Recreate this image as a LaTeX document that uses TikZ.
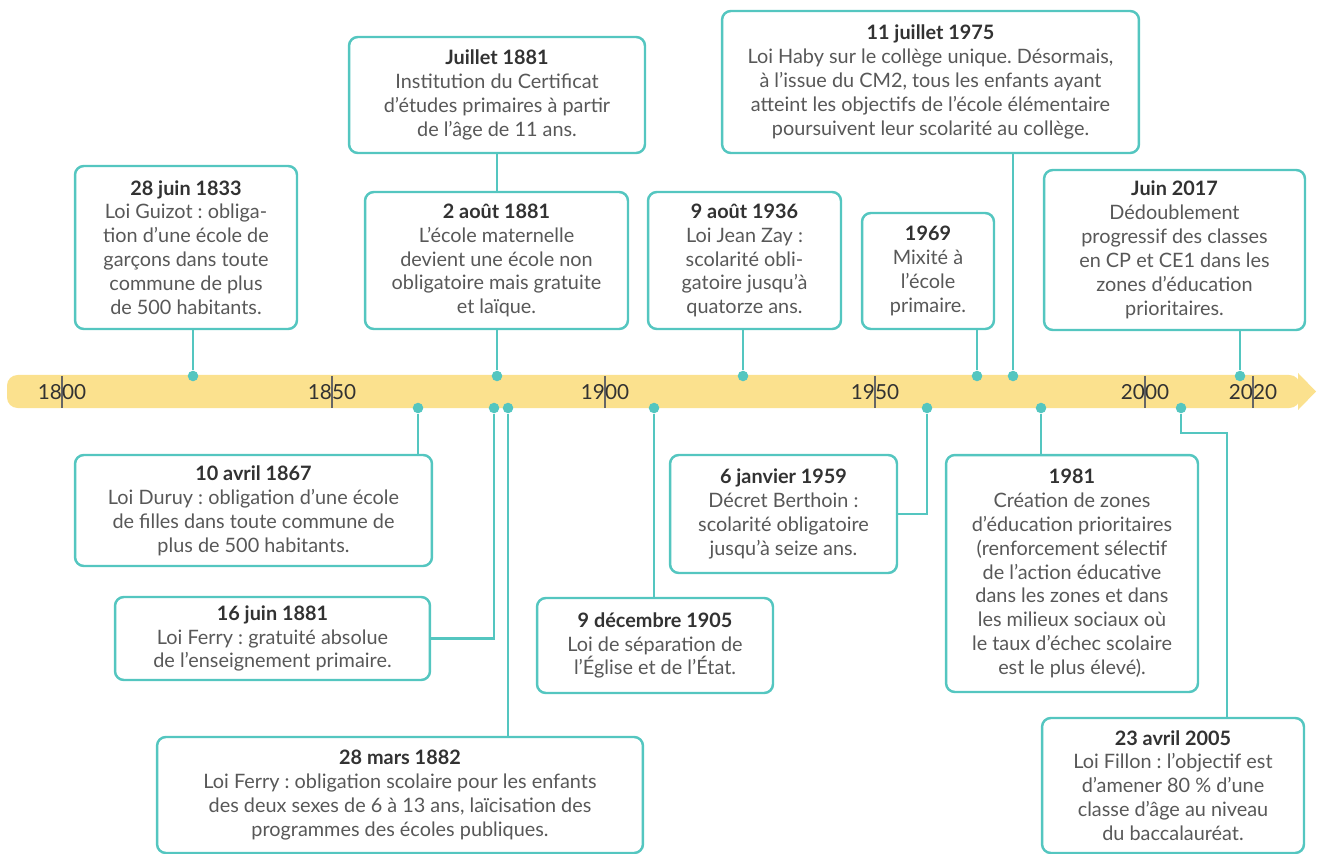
\documentclass[tikz,border=0pt]{standalone}
\usepackage{fontspec}
\setmainfont{Lato}
\usetikzlibrary{calc}
\definecolor{teal1}{RGB}{84,198,192}
\definecolor{barcol}{RGB}{251,225,142}
\definecolor{ink}{RGB}{50,50,50}
\definecolor{txt}{RGB}{88,88,88}
\newcommand{\evt}[2]{{\bfseries\color{ink}#1}\\#2}
\frenchspacing
\tikzset{
	evbox/.style={draw=teal1, line width=1.4pt, rounded corners=5pt, fill=white, align=center, text=txt, inner sep=0pt, font=\fontsize{11.3}{13.6}\selectfont},
	link/.style={teal1, line width=1.4pt},
	dot/.style={circle, fill=teal1, inner sep=0pt, minimum size=6pt},
	yearlbl/.style={text=ink, font=\fontsize{11.8}{12}\selectfont}
}

\begin{document}
\begin{tikzpicture}[x=0.02cm, y=-0.02cm]
		%%%%% START %%%%%
		\useasboundingbox (0,0) rectangle (1317,854);
		
		% frise
		\fill[barcol, rounded corners=6pt] (7,375) rectangle (1300,408);
		\fill[barcol] (1298,373) -- (1316,391.5) -- (1298,410) -- cycle;
		\foreach \x/\y in {62/1800, 332/1850, 605/1900, 875/1950, 1145/2000, 1253/2020}{
			\draw[ink!75, line width=0.6pt] (\x,376) -- (\x,408);
			\node[yearlbl, inner sep=0pt] at (\x,392.5) {\y};
		}
		
		% points
		\node[dot] (d1833) at (193,376) {};
		\node[dot] (d1881b) at (497,376) {};
		\node[dot] (d1936) at (743,376) {};
		\node[dot] (d1969) at (977,376) {};
		\node[dot] (d1975) at (1013,376) {};
		\node[dot] (d2017) at (1240,376) {};
		\node[dot] (d1867) at (418,408) {};
		\node[dot] (d1881c) at (494,408) {};
		\node[dot] (d1882) at (508,408) {};
		\node[dot] (d1905) at (654,408) {};
		\node[dot] (d1959) at (927,408) {};
		\node[dot] (d1981) at (1041,408) {};
		\node[dot] (d2005) at (1181,408) {};
		\coordinate (k2005) at (1227,433);
		
		% au-dessus
		\node[evbox, minimum width=4.44cm, minimum height=3.26cm] (b1833) at (186,247.5) {\evt{28 juin 1833}{Loi Guizot : obliga-\\tion d’une école de\\garçons dans toute\\commune de plus\\de 500 habitants.}};
		\node[evbox, minimum width=5.92cm, minimum height=2.32cm] (b1881a) at (497,95) {\evt{Juillet 1881}{Institution du Certificat\\d’études primaires à partir\\de l’âge de 11 ans.}};
		\node[evbox, minimum width=5.26cm, minimum height=2.74cm] (b1881b) at (496.5,260.5) {\evt{2 août 1881}{L’école maternelle\\devient une école non\\obligatoire mais gratuite\\et laïque.}};
		\node[evbox, minimum width=3.86cm, minimum height=2.74cm] (b1936) at (744.5,260.5) {\evt{9 août 1936}{Loi Jean Zay :\\scolarité obli-\\gatoire jusqu’à\\quatorze ans.}};
		\node[evbox, minimum width=2.64cm, minimum height=2.32cm] (b1969) at (928,271) {\evt{1969}{Mixité à\\l’école\\primaire.}};
		\node[evbox, minimum width=8.34cm, minimum height=2.84cm] (b1975) at (930.5,82) {\evt{11 juillet 1975}{Loi Haby sur le collège unique. Désormais,\\à l’issue du CM2, tous les enfants ayant\\atteint les objectifs de l’école élémentaire\\poursuivent leur scolarité au collège.}};
		\node[evbox, minimum width=5.22cm, minimum height=3.2cm] (b2017) at (1174.5,250) {\evt{Juin 2017}{Dédoublement\\progressif des classes\\en CP et CE1 dans les\\zones d’éducation\\prioritaires.}};
		
		% au-dessous
		\node[evbox, minimum width=7.14cm, minimum height=2.22cm] (b1867) at (253.5,510.5) {\evt{10 avril 1867}{Loi Duruy : obligation d’une école\\de filles dans toute commune de\\plus de 500 habitants.}};
		\node[evbox, minimum width=6.3cm, minimum height=1.66cm] (b1881c) at (272.5,638.5) {\evt{16 juin 1881}{Loi Ferry : gratuité absolue\\de l’enseignement primaire.}};
		\node[evbox, minimum width=9.72cm, minimum height=2.32cm] (b1882) at (400,795) {\evt{28 mars 1882}{Loi Ferry : obligation scolaire pour les enfants\\des deux sexes de 6 à 13 ans, laïcisation des\\programmes des écoles publiques.}};
		\node[evbox, minimum width=4.72cm, minimum height=1.9cm] (b1905) at (655,645.5) {\evt{9 décembre 1905}{Loi de séparation de\\l’Église et de l’État.}};
		\node[evbox, minimum width=4.54cm, minimum height=2.36cm] (b1959) at (783.5,514) {\evt{6 janvier 1959}{Décret Berthoin :\\scolarité obligatoire\\jusqu’à seize ans.}};
		\node[evbox, minimum width=5.04cm, minimum height=4.74cm] (b1981) at (1072,573.5) {\evt{1981}{Création de zones\\d’éducation prioritaires\\(renforcement sélectif\\de l’action éducative\\dans les zones et dans\\les milieux sociaux où\\le taux d’échec scolaire\\est le plus élevé).}};
		\node[evbox, minimum width=5.24cm, minimum height=2.7cm] (b2005) at (1173,785.5) {\evt{23 avril 2005}{Loi Fillon : l’objectif est\\d’amener 80 \% d’une\\classe d’âge au niveau\\du baccalauréat.}};
		
		% liens
		\draw[link] (d1833 |- b1833.south) -- (d1833);
		\draw[link] (d1881b |- b1881a.south) -- (d1881b |- b1881b.north);
		\draw[link] (d1881b |- b1881b.south) -- (d1881b);
		\draw[link] (d1936 |- b1936.south) -- (d1936);
		\draw[link] (d1969 |- b1969.south) -- (d1969);
		\draw[link] (d1975 |- b1975.south) -- (d1975);
		\draw[link] (d2017 |- b2017.south) -- (d2017);
		\draw[link] (d1867) -- (d1867 |- b1867.north);
		\draw[link] (d1881c) |- (b1881c.east);
		\draw[link] (d1882) -- (d1882 |- b1882.north);
		\draw[link] (d1905) -- (d1905 |- b1905.north);
		\draw[link] (d1959) |- (b1959.east);
		\draw[link] (d1981) -- (d1981 |- b1981.north);
		\draw[link] (d2005) |- (k2005) -- (k2005 |- b2005.north);
		
		%%%%% END %%%%%
	\end{tikzpicture}
\end{document}
